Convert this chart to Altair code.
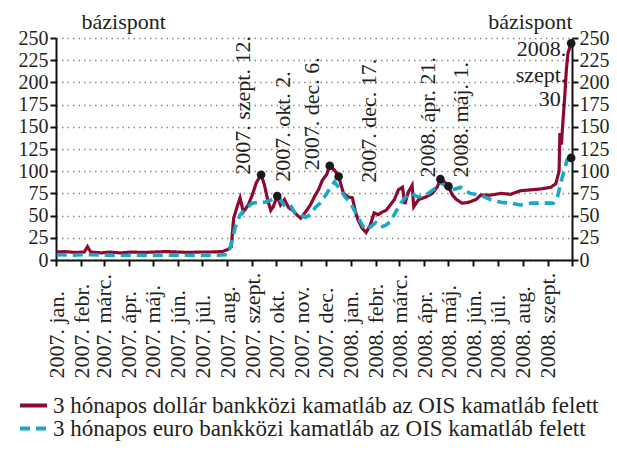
import json
import altair as alt
import pandas as pd

FONT = "Liberation Serif"
TXT = "#231f20"
RED = "#8c0a2e"
CYAN = "#17a8ca"

SERIES = [
    "3 hónapos dollár bankközi kamatláb az OIS kamatláb felett",
    "3 hónapos euro bankközi kamatláb az OIS kamatláb felett",
]

MONTHS = ["jan.", "febr.", "márc.", "ápr.", "máj.", "jún.", "júl.", "aug.",
          "szept.", "okt.", "nov.", "dec."]
TICK_LABELS = [f"{y}. {m}" for y in (2007, 2008) for m in MONTHS][:21] + [""]
TICK_MONTHS = [(2007 + i // 12, i % 12 + 1) for i in range(22)]
Y_TICKS = list(range(0, 251, 25))

dollar_dates = [
    "2007-01-02", "2007-01-12", "2007-01-24", "2007-02-05", "2007-02-09", "2007-02-13",
    "2007-02-26", "2007-03-09", "2007-03-22", "2007-04-05", "2007-04-19", "2007-05-03",
    "2007-05-17", "2007-05-31", "2007-06-14", "2007-06-28", "2007-07-12", "2007-07-26",
    "2007-08-02", "2007-08-06", "2007-08-09", "2007-08-14", "2007-08-17", "2007-08-21",
    "2007-08-27", "2007-09-01", "2007-09-06", "2007-09-12", "2007-09-16", "2007-09-20",
    "2007-09-24", "2007-09-27", "2007-10-02", "2007-10-06", "2007-10-11", "2007-10-16",
    "2007-10-21", "2007-10-26", "2007-10-31", "2007-11-06", "2007-11-12", "2007-11-18",
    "2007-11-22", "2007-11-27", "2007-12-02", "2007-12-06", "2007-12-12", "2007-12-17",
    "2007-12-23", "2007-12-29", "2008-01-03", "2008-01-07", "2008-01-10", "2008-01-15",
    "2008-01-20", "2008-01-25", "2008-01-30", "2008-02-04", "2008-02-09", "2008-02-14",
    "2008-02-19", "2008-02-24", "2008-02-29", "2008-03-05", "2008-03-08", "2008-03-12",
    "2008-03-17", "2008-03-19", "2008-03-25", "2008-04-03", "2008-04-11", "2008-04-17",
    "2008-04-21", "2008-04-26", "2008-05-01", "2008-05-06", "2008-05-11", "2008-05-18",
    "2008-05-26", "2008-06-04", "2008-06-10", "2008-06-22", "2008-07-05", "2008-07-17",
    "2008-07-29", "2008-08-11", "2008-08-23", "2008-09-05", "2008-09-11", "2008-09-15",
    "2008-09-16", "2008-09-18", "2008-09-19", "2008-09-22", "2008-09-24", "2008-09-26",
    "2008-09-30",
]
dollar_vals = [
    9, 9.5, 8.5, 9, 15, 9,
    8, 9, 8, 9, 8.5, 9,
    9.5, 9, 8.5, 9, 9, 9.5,
    12, 15, 47, 62, 70, 54,
    62, 73, 87, 96, 85, 68,
    56, 60, 72, 62, 68, 59,
    56, 51, 47, 54, 62, 73,
    79, 90, 96, 106, 101, 94,
    75, 71, 70, 54, 45, 36,
    31, 39, 53, 51, 54, 56,
    62, 68, 79, 82, 63, 76,
    84, 60, 68, 71, 75, 82,
    91, 88, 83, 73, 68, 64,
    65, 68, 73, 73, 75, 74,
    78, 79, 80, 82, 86, 100,
    143, 130, 146, 184, 214, 233,
    244,
]

euro_dates = [
    "2007-01-02", "2007-01-20", "2007-02-10", "2007-03-01", "2007-03-20", "2007-04-10",
    "2007-05-01", "2007-05-20", "2007-06-10", "2007-06-30", "2007-07-20", "2007-08-01",
    "2007-08-05", "2007-08-11", "2007-08-17", "2007-08-22", "2007-08-27", "2007-09-01",
    "2007-09-08", "2007-09-17", "2007-09-26", "2007-10-06", "2007-10-12", "2007-10-18",
    "2007-10-24", "2007-10-31", "2007-11-06", "2007-11-12", "2007-11-18", "2007-11-24",
    "2007-12-01", "2007-12-07", "2007-12-12", "2007-12-19", "2007-12-25", "2008-01-01",
    "2008-01-07", "2008-01-13", "2008-01-19", "2008-01-25", "2008-02-01", "2008-02-07",
    "2008-02-13", "2008-02-19", "2008-02-25", "2008-03-03", "2008-03-09", "2008-03-15",
    "2008-03-24", "2008-04-03", "2008-04-15", "2008-04-21", "2008-04-27", "2008-05-06",
    "2008-05-16", "2008-05-28", "2008-06-10", "2008-06-22", "2008-07-05", "2008-07-17",
    "2008-07-29", "2008-08-11", "2008-08-23", "2008-09-08", "2008-09-13", "2008-09-18",
    "2008-09-25", "2008-09-30",
]
euro_vals = [
    6, 5.5, 6, 5.5, 5, 5.5,
    5, 5.5, 5.5, 5, 5.5, 6,
    15, 37, 51, 56, 60, 64,
    65, 65, 68, 68, 60, 62,
    53, 51, 48, 51, 59, 64,
    73, 82, 88, 79, 71, 64,
    53, 43, 34, 37, 42, 37,
    39, 43, 53, 64, 71, 75,
    71, 73, 81, 87, 84, 79,
    82, 75, 73, 68, 65, 64,
    62, 64, 64, 64, 71, 90,
    113, 115,
]

# highlighted points
dot_dates = ["2007-09-12", "2007-10-02", "2007-12-06", "2007-12-17",
             "2008-04-21", "2008-05-01", "2008-09-30", "2008-09-30"]
dot_vals = [96, 72, 106, 94, 91, 83, 244, 115]

# rotated annotation labels (anchor = start of text, data space)
ann_texts = ["2007. szept. 12.", "2007. okt. 2.", "2007. dec. 6.", "2007. dec. 17.",
             "2008. ápr. 21.", "2008. máj. 1."]
ann_dates = ["2007-08-21", "2007-10-09", "2007-11-14", "2008-01-23",
             "2008-04-06", "2008-05-16"]
ann_vals = [96, 88, 101, 87, 93, 93]

# horizontal annotation for the last point
last_texts = ["2008.", "szept.", "30."]
last_dates = ["2008-09-24", "2008-09-24", "2008-09-24"]
last_vals = [230, 201, 173]

df = pd.concat([
    pd.DataFrame({"date": dollar_dates, "value": dollar_vals, "series": SERIES[0]}),
    pd.DataFrame({"date": euro_dates, "value": euro_vals, "series": SERIES[1]}),
])
dots_df = pd.DataFrame({"date": dot_dates, "value": dot_vals})
ann_df = pd.DataFrame({"date": ann_dates, "value": ann_vals, "text": ann_texts})
last_df = pd.DataFrame({"date": last_dates, "value": last_vals, "text": last_texts})

label_expr = (json.dumps(TICK_LABELS, ensure_ascii=False)
              + "[(utcyear(datum.value)-2007)*12+utcmonth(datum.value)]")

x_scale = alt.Scale(type="utc", domain=[
    alt.DateTime(year=2007, month=1, date=1, utc=True),
    alt.DateTime(year=2008, month=10, date=1, utc=True)])
x_enc = alt.X(
    "date:T", scale=x_scale,
    axis=alt.Axis(
        values=[alt.DateTime(year=y, month=m, date=1, utc=True) for y, m in TICK_MONTHS],
        labelExpr=label_expr, title=None, grid=False,
        labelAngle=270, labelAlign="left", labelBaseline="middle",
        labelPadding=112, tickSize=6, labelOverlap=False, labelFlush=False,
        labelBound=False, labelFontSize=22),
)
y_scale = alt.Scale(domain=[0, 250], nice=False, zero=True)

left_axis = alt.Axis(values=Y_TICKS, orient="left", grid=True, gridDash=[1.5, 4],
                     gridColor="#8a8a8a", gridWidth=1.3, title="bázispont",
                     titleAngle=0, titleX=25, titleY=-10, titleAlign="left",
                     titleBaseline="alphabetic", tickSize=6, labelPadding=2)
right_axis = alt.Axis(values=Y_TICKS, orient="right", grid=False, title="bázispont",
                      titleAngle=0, titleX=0, titleY=-10, titleAlign="right",
                      titleBaseline="alphabetic", tickSize=6, labelPadding=1)

legend = alt.Legend(title=None, orient="none", legendX=-38, legendY=358,
                    direction="vertical")
color = alt.Color("series:N", scale=alt.Scale(domain=SERIES, range=[RED, CYAN]),
                  legend=legend)
dash = alt.StrokeDash("series:N",
                      scale=alt.Scale(domain=SERIES, range=[[1, 0], [10, 6]]),
                      legend=legend)

base = alt.Chart(df)
dollar = base.transform_filter(alt.datum.series == SERIES[0]).mark_line(
    strokeWidth=3.2).encode(x=x_enc, y=alt.Y("value:Q", scale=y_scale, axis=left_axis),
                            color=color, strokeDash=dash)
euro = base.transform_filter(alt.datum.series == SERIES[1]).mark_line(
    strokeWidth=3.6).encode(x=x_enc, y=alt.Y("value:Q", scale=y_scale, axis=left_axis),
                            color=color, strokeDash=dash)

dots = alt.Chart(dots_df).mark_circle(size=75, color="#1a1a1a", opacity=1).encode(
    x=x_enc, y=alt.Y("value:Q", scale=y_scale, axis=right_axis))

ann = alt.Chart(ann_df).mark_text(angle=270, align="left", baseline="middle",
                                  font=FONT, fontSize=22, color=TXT).encode(
    x=x_enc, y=alt.Y("value:Q", scale=y_scale, axis=None), text="text:N")

last = alt.Chart(last_df).mark_text(align="right", baseline="alphabetic",
                                    font=FONT, fontSize=22, color=TXT).encode(
    x=x_enc, y=alt.Y("value:Q", scale=y_scale, axis=None), text="text:N")

chart = alt.layer(alt.layer(dollar, euro), dots, ann, last).resolve_scale(
    y="independent").properties(
    width=516, height=222,
    padding={"left": 48, "top": 30, "right": 37, "bottom": 182},
    autosize=alt.AutoSizeParams(type="none"),
).configure_axis(
    labelFont=FONT, titleFont=FONT, labelFontSize=20, titleFontSize=22,
    labelColor=TXT, titleColor=TXT, titleFontWeight="normal",
    domainColor="#111", tickColor="#111", domainWidth=2, tickWidth=2,
).configure_legend(
    labelFont=FONT, labelFontSize=23, labelColor=TXT, symbolType="stroke",
    symbolStrokeWidth=4, symbolSize=729, labelOffset=4, padding=0, rowPadding=-1,
    clipHeight=19, labelLimit=0,
).configure_view(stroke=None)

chart.save("out.html", embed_options={"renderer": "svg", "actions": False})
